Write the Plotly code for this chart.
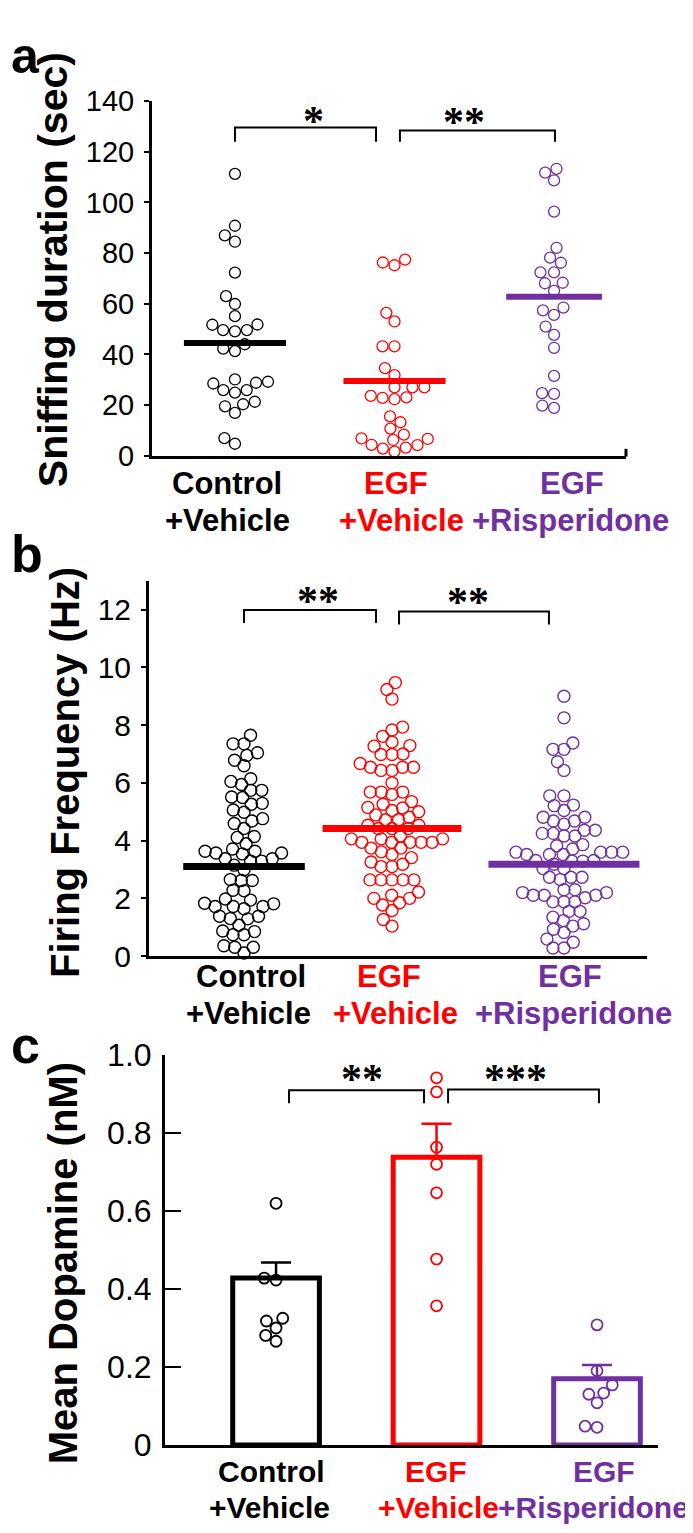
import math
import plotly.graph_objects as go

W, H = 693, 1533
FONT = "Liberation Sans"

COLORS = ["#000000", "#FF0000", "#7030A0"]
TOP_LINE = ["Control", "EGF", "EGF"]
BOTTOM_LINE = ["+Vehicle", "+Vehicle", "+Risperidone"]

# panel a: sniffing duration (sec), one value per animal
SNIFF_CONTROL = [111.3, 90.8, 87.0, 84.5, 72.3, 63.0, 59.9, 55.1, 51.7, 49.6, 49.1, 51.8, 49.6,
                 44.0, 41.3, 42.3, 30.1, 29.2, 28.5, 28.8, 25.9, 24.9, 25.9, 19.5, 20.3, 21.3,
                 16.9, 4.7, 6.9]
SNIFF_EGF = [77.4, 76.3, 75.2, 56.4, 53.0, 43.2, 43.2, 34.6, 31.8, 27.0, 27.0, 27.0, 23.0, 23.6,
             22.3, 22.8, 15.5, 13.2, 10.7, 8.3, 6.8, 6.2, 6.6, 4.3, 4.2, 3.2, 1.6, 2.8]
SNIFF_RISP = [111.8, 113.3, 108.7, 96.4, 82.1, 78.2, 76.2, 72.4, 72.4, 68.1, 68.3, 65.1, 58.5,
              57.4, 55.6, 51.0, 47.7, 42.6, 31.5, 24.4, 24.7, 19.8, 18.9]
SNIFF_MEAN = [44.5, 29.5, 62.8]

# panel b: firing frequency (Hz), one value per neuron
FIRING_CONTROL = [7.65, 7.35, 7.35, 6.95, 7.04, 6.78, 6.59, 6.14, 6.05, 5.74, 5.74, 5.94, 5.51,
                  5.26, 5.49, 5.29, 5.06, 4.98, 4.76, 4.68, 4.42, 4.59, 4.14, 3.89, 4.11, 3.63,
                  3.63, 3.57, 3.37, 3.29, 3.29, 3.37, 3.57, 3.54, 3.71, 3.15, 2.99, 2.65, 2.62,
                  2.62, 2.28, 2.26, 1.94, 1.98, 1.83, 1.64, 1.38, 1.30, 1.38, 1.72, 1.72, 1.72,
                  1.81, 1.29, 1.07, 0.87, 0.74, 0.85, 0.74, 0.36, 0.31, 0.11, 0.31]
FIRING_EGF = [9.47, 9.23, 8.9, 7.83, 7.93, 7.61, 7.41, 7.27, 7.29, 6.98, 7.0, 6.98, 6.43, 6.54,
              6.54, 6.54, 6.43, 6.67, 6.0, 5.68, 5.68, 5.6, 5.68, 5.35, 5.26, 5.15, 5.13, 5.04,
              5.0, 4.72, 4.81, 4.89, 4.72, 4.53, 4.53, 4.42, 4.42, 4.42, 4.06, 4.06, 3.94, 4.16,
              3.94, 3.74, 3.94, 3.94, 4.06, 3.94, 3.74, 3.61, 3.52, 3.41, 3.26, 3.18, 3.1, 3.1,
              2.64, 2.64, 2.64, 2.64, 2.64, 2.0, 2.11, 2.22, 2.0, 1.77, 1.85, 1.58, 1.27, 1.04]
FIRING_RISP = [9.0, 8.25, 7.38, 7.16, 7.16, 6.73, 6.43, 5.55, 5.55, 5.21, 5.04, 5.23, 4.81, 4.81,
               4.68, 4.68, 4.57, 4.36, 4.36, 4.25, 4.16, 4.25, 4.16, 3.86, 3.71, 3.82, 3.6, 3.6,
               3.52, 3.52, 3.6, 3.6, 3.52, 3.29, 3.29, 3.31, 3.31, 3.03, 3.18, 3.03, 2.73, 2.73,
               2.65, 2.73, 2.11, 2.2, 1.88, 1.88, 2.11, 2.3, 2.02, 2.3, 2.11, 1.88, 2.2, 1.55,
               1.55, 1.35, 1.23, 1.12, 1.04, 0.82, 0.48, 0.59, 0.93, 0.28, 0.28]
FIRING_MEAN = [3.1, 4.42, 3.18]

# panel c: mean dopamine (nM)
DA_CONTROL = [0.62, 0.428, 0.423, 0.325, 0.318, 0.30, 0.281, 0.266]
DA_EGF = [0.942, 0.906, 0.764, 0.72, 0.647, 0.477, 0.357]
DA_RISP = [0.308, 0.19, 0.154, 0.13, 0.133, 0.108, 0.045, 0.048]
DA_BAR = [0.428, 0.738, 0.17]
DA_SEM = [0.04, 0.086, 0.035]

# layout of the three panels, in pixels of the page
PANELS = [
    dict(sfx="", x_px=(144, 618), y_px=(440, 77), xr=(-0.520, 2.451), yr=(0, 140),
         pos=[0, 1, 2], diam=12, msize=11, mwidth=1.3, line_w=6, half=[0.32, 0.32, 0.30]),
    dict(sfx="2", x_px=(141, 639), y_px=(952.5, 568), xr=(-0.594, 2.519), yr=(0, 13),
         pos=[0, 0.925, 2], diam=11, msize=12, mwidth=1.4, line_w=7, half=[0.38, 0.434, 0.472]),
    dict(sfx="3", x_px=(157, 650), y_px=(1453, 1054), xr=(-0.692, 2.380), yr=(0, 1),
         pos=[0, 1, 2], diam=12, msize=11, mwidth=1.8),
]


def px(x):
    return x / W


def py(y):
    return 1 - y / H


def swarm_offsets(vals, ppu_y, diam):
    # simple beeswarm: each point goes to the free spot closest to the centre
    order = sorted(range(len(vals)), key=lambda i: vals[i])
    placed = []
    offs = [0.0] * len(vals)
    for i in order:
        y = vals[i] * ppu_y
        cands = [0.0]
        for xo, yo in placed:
            dy = y - yo
            if abs(dy) < diam:
                dx = math.sqrt(diam ** 2 - dy ** 2)
                cands += [xo + dx, xo - dx]
        cands.sort(key=lambda c: (abs(c), c))
        best = cands[0]
        for c in cands:
            if all((c - xo) ** 2 + (y - yo) ** 2 >= diam ** 2 - 1e-6 for xo, yo in placed):
                best = c
                break
        placed.append((best, y))
        offs[i] = best
    return offs


fig = go.Figure()
annotations = []
shapes = []

groups_all = [
    [SNIFF_CONTROL, SNIFF_EGF, SNIFF_RISP],
    [FIRING_CONTROL, FIRING_EGF, FIRING_RISP],
    [DA_CONTROL, DA_EGF, DA_RISP],
]
means_all = [SNIFF_MEAN, FIRING_MEAN, None]

for k, p in enumerate(PANELS):
    sfx = p["sfx"]
    xa, ya = "x" + sfx, "y" + sfx
    ppu_x = (p["x_px"][1] - p["x_px"][0]) / (p["xr"][1] - p["xr"][0])
    ppu_y = (p["y_px"][0] - p["y_px"][1]) / (p["yr"][1] - p["yr"][0])

    if k == 2:
        # bars with one-sided SEM
        for g in range(3):
            fig.add_trace(go.Bar(
                x=[p["pos"][g]], y=[DA_BAR[g]], width=0.54,
                marker=dict(color="white", line=dict(color=COLORS[g], width=5)),
                error_y=dict(type="data", symmetric=False, array=[DA_SEM[g]], arrayminus=[0],
                             color=COLORS[g], thickness=2.5, width=15),
                xaxis=xa, yaxis=ya, hoverinfo="skip"))

    for g, vals in enumerate(groups_all[k]):
        offs = swarm_offsets(vals, ppu_y, p["diam"])
        fig.add_trace(go.Scatter(
            x=[p["pos"][g] + o / ppu_x for o in offs], y=vals, mode="markers",
            marker=dict(symbol="circle-open", size=p["msize"], color=COLORS[g],
                        line=dict(width=p["mwidth"], color=COLORS[g])),
            cliponaxis=False, xaxis=xa, yaxis=ya, hoverinfo="skip"))

    if means_all[k] is not None:
        for g, m in enumerate(means_all[k]):
            c, hw = p["pos"][g], p["half"][g]
            fig.add_trace(go.Scatter(
                x=[c - hw, c + hw], y=[m, m], mode="lines",
                line=dict(color=COLORS[g], width=p["line_w"]),
                cliponaxis=False, xaxis=xa, yaxis=ya, hoverinfo="skip"))

# significance brackets: (x0, x1, top, drop, label, label_x, label_y)
BRACKETS = [
    [(0.0, 0.884, 129.6, 124.0, "*", 0.495, 134.2),
     (1.034, 2.006, 128.4, 124.0, "**", 1.436, 133.8)],
    [(0.0, 0.825, 11.98, 11.53, "**", 0.4625, 12.48),
     (0.969, 1.906, 11.93, 11.48, "**", 1.40, 12.42)],
    [(0.081, 0.922, 0.91, 0.877, "**", 0.536, 0.952),
     (1.072, 2.012, 0.912, 0.877, "***", 1.489, 0.952)],
]
for k, p in enumerate(PANELS):
    sfx = p["sfx"]
    for x0, x1, top, drop, lab, lx, ly in BRACKETS[k]:
        fig.add_trace(go.Scatter(
            x=[x0, x0, x1, x1], y=[drop, top, top, drop], mode="lines",
            line=dict(color="black", width=2), cliponaxis=False,
            xaxis="x" + sfx, yaxis="y" + sfx, hoverinfo="skip"))
        annotations.append(dict(
            x=lx, y=ly, xref="x" + sfx, yref="y" + sfx, text="<b>%s</b>" % lab, showarrow=False,
            xanchor="center", yanchor="middle", yshift=-5,
            font=dict(family="Liberation Serif", size=42, color="black")))

# category labels under each panel (pixel positions)
LABEL_POS = [
    dict(top_y=469, bot_y=506, top_x=[219, 388, 564], bot_x=[219, 393, 562], size=31),
    dict(top_y=973, bot_y=1011, top_x=[243, 381, 562], bot_x=[240, 387, 565], size=31),
    dict(top_y=1480, bot_y=1517, top_x=[263, 428, 596], bot_x=[261, 430, 585], size=30),
]
for lp in LABEL_POS:
    for g in range(3):
        annotations.append(dict(
            x=px(lp["top_x"][g]), y=py(lp["top_y"]), xref="paper", yref="paper",
            text="<b>%s</b>" % TOP_LINE[g], showarrow=False, xanchor="center", yanchor="middle",
            font=dict(family=FONT, size=lp["size"], color=COLORS[g])))
        annotations.append(dict(
            x=px(lp["bot_x"][g]), y=py(lp["bot_y"]), xref="paper", yref="paper",
            text="<b>%s</b>" % BOTTOM_LINE[g], showarrow=False, xanchor="center", yanchor="middle",
            font=dict(family=FONT, size=lp["size"], color=COLORS[g])))

# y titles and panel letters
for text, x, y, size in [("Sniffing duration (sec)", 45, 250, 41),
                         ("Firing Frequency (Hz)", 57, 765, 40),
                         ("Mean Dopamine (nM)", 55, 1267, 40)]:
    annotations.append(dict(
        x=px(x), y=py(y), xref="paper", yref="paper", text="<b>%s</b>" % text,
        showarrow=False, textangle=-90, xanchor="center", yanchor="middle",
        font=dict(family=FONT, size=size, color="black")))
annotations.append(dict(
    x=px(1), y=1, xref="paper", yref="paper", text="<b>a</b>",
    showarrow=False, xanchor="left", yanchor="top",
    font=dict(family=FONT, size=50, color="black")))
for text, y in [("b", 541), ("c", 1043)]:
    annotations.append(dict(
        x=px(1), y=py(y), xref="paper", yref="paper", text="<b>%s</b>" % text,
        showarrow=False, xanchor="left", yanchor="middle",
        font=dict(family=FONT, size=52, color="black")))

# small upward tick at the right end of the panel a x axis
shapes.append(dict(type="line", xref="paper", yref="paper", x0=px(618), x1=px(618),
                   y0=py(441), y1=py(433), line=dict(color="black", width=3)))

layout = dict(
    width=W, height=H, margin=dict(l=0, r=0, t=0, b=0),
    paper_bgcolor="white", plot_bgcolor="white", showlegend=False,
    annotations=annotations, shapes=shapes, barmode="overlay",
)
YTICKS = [
    dict(tickvals=list(range(0, 141, 20)), ticktext=[str(v) for v in range(0, 141, 20)],
         ticks="outside", ticklen=5, size=29),
    dict(tickvals=list(range(0, 13, 2)), ticktext=[str(v) for v in range(0, 13, 2)],
         ticks="outside", ticklen=5, size=30),
    dict(tickvals=[0, 0.2, 0.4, 0.6, 0.8, 1.0], ticktext=["0", "0.2", "0.4", "0.6", "0.8", "1.0"],
         ticks="inside", ticklen=16, size=32),
]
for k, p in enumerate(PANELS):
    sfx = p["sfx"]
    t = YTICKS[k]
    layout["xaxis" + sfx] = dict(
        domain=[px(p["x_px"][0]), px(p["x_px"][1])], range=list(p["xr"]), anchor="y" + sfx,
        showline=True, linewidth=3, linecolor="black", showticklabels=False, ticks="",
        showgrid=False, zeroline=False, fixedrange=True)
    layout["yaxis" + sfx] = dict(
        domain=[py(p["y_px"][0]), py(p["y_px"][1])], range=list(p["yr"]), anchor="x" + sfx,
        showline=True, linewidth=3, linecolor="black", showgrid=False, zeroline=False,
        tickvals=t["tickvals"], ticktext=t["ticktext"], ticks=t["ticks"], ticklen=t["ticklen"],
        tickwidth=2, tickcolor="black", ticklabelstandoff=4,
        tickfont=dict(family=FONT, size=t["size"], color="black"), fixedrange=True)

fig.update_layout(**layout)
fig.write_html("out.html")
